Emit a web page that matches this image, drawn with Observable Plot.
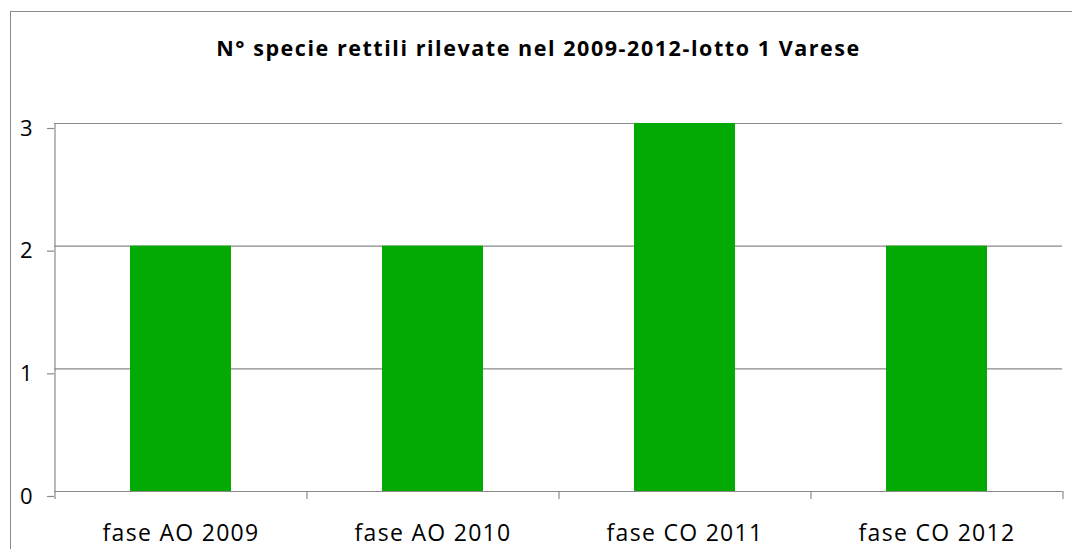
<!DOCTYPE html>
<html>
<head>
<meta charset="utf-8">
<script src="https://cdn.jsdelivr.net/npm/d3@7"></script>
<script src="https://cdn.jsdelivr.net/npm/@observablehq/plot@0.6"></script>
<style>
  html, body { margin: 0; padding: 0; background: #fff; }
  #wrap { position: relative; width: 1072px; height: 549px; overflow: hidden; background: #fff; }
  #border { position: absolute; left: 10px; top: 11px; width: 1100px; height: 600px;
            border-left: 1.5px solid #8a8a8a; border-top: 1.5px solid #8a8a8a; }
  #title { position: absolute; left: 0; width: 1072px; top: 33px; text-align: center;
           font-family: "Open Sans", sans-serif; font-weight: bold; font-size: 21.5px; color: #000;
           letter-spacing: 1.55px; padding-left: 5px; box-sizing: border-box; }
  #chart { position: absolute; left: 0; top: 80px; }
  #chart g[aria-label="x-axis tick label"] text { letter-spacing: 1.3px; }
</style>
</head>
<body>
<div id="wrap">
  <div id="border"></div>
  <div id="title"></div>
  <div id="chart"></div>
</div>
<script>
const titleText = "N° specie rettili rilevate nel 2009-2012-lotto 1 Varese";
const categories = ["fase AO 2009", "fase AO 2010", "fase CO 2011", "fase CO 2012"];
const values = [2, 2, 3, 2];
const yTicks = [0, 1, 2, 3];

document.getElementById("title").textContent = titleText;

const data = categories.map((c, i) => ({category: c, value: values[i]}));
const W = 1072, H = 469;
const mL = 54, mR = 10;
const step = (W - mL - mR) / categories.length;

const chart = Plot.plot({
  width: W,
  height: H,
  marginLeft: mL,
  marginRight: mR,
  marginTop: 43,
  marginBottom: 58,
  style: {fontFamily: "'Open Sans', sans-serif", background: "transparent", color: "#000"},
  x: {domain: categories, paddingInner: 0.6, paddingOuter: 0.3, label: null},
  y: {domain: [0, 3], label: null},
  marks: [
    Plot.gridY(yTicks, {stroke: "#8a8a8a", strokeOpacity: 1, strokeWidth: 1.2}),
    Plot.axisY(yTicks, {tickSize: 7, stroke: "#8a8a8a", strokeWidth: 1.2, tickPadding: 15, fontSize: 22, fill: "#000", dy: 5, tickFormat: d => String(d), label: null}),
    Plot.barY(data, {x: "category", y: "value", fill: "#03aa03"}),
    Plot.ruleY([0], {stroke: "#8a8a8a", strokeWidth: 1.2}),
    Plot.ruleX([categories[0]], {x: d => d, y1: 0, y2: 3, dx: -step / 2, stroke: "#8a8a8a", strokeWidth: 1.2}),
    Plot.ruleX(categories, {x: d => d, y1: 0, y2: 0, dx: -step / 2, insetBottom: -8, stroke: "#8a8a8a", strokeWidth: 1.2}),
    Plot.ruleX([categories[categories.length - 1]], {x: d => d, y1: 0, y2: 0, dx: step / 2, insetBottom: -8, stroke: "#8a8a8a", strokeWidth: 1.2}),
    Plot.axisX({tickSize: 0, tickPadding: 33, fontSize: 23, fill: "#000", label: null})
  ]
});
document.getElementById("chart").appendChild(chart);
</script>
</body>
</html>
